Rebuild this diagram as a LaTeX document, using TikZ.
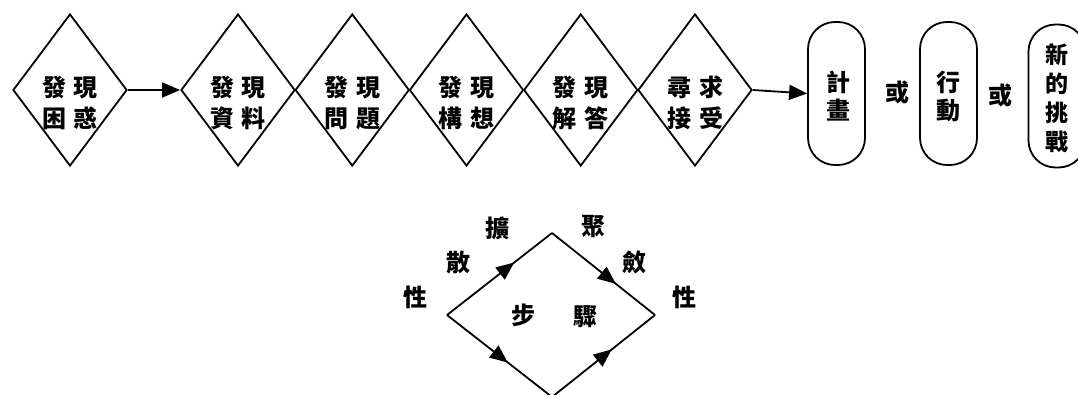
\documentclass[tikz,border=0pt]{standalone}
\usepackage{fontspec}
\newfontfamily\cjk{Noto Sans CJK TC}
\usetikzlibrary{shapes.geometric,arrows.meta,decorations.markings}
\begin{document}
\begin{tikzpicture}[x=1pt,y=-1pt,
  line width=1.8pt,
  tip/.style={-{Triangle[length=18pt,width=15pt]}},
  stepdia/.style={draw,diamond,inner sep=0pt,minimum width=114pt,minimum height=152pt},
  txt/.style={font=\cjk\bfseries\fontsize{24}{31}\selectfont,align=center,inner sep=0pt},
  capsule/.style={draw,rectangle,rounded corners=27pt,minimum width=57pt,minimum height=143pt,inner sep=0pt},
  midtip/.style={postaction={decorate},decoration={markings,mark=at position #1 with {\arrow{Triangle[length=18pt,width=15pt]}}}}
]
\useasboundingbox (0,0) rectangle (1078,394);
% top row diamonds
\node[stepdia] (d1) at (70,90) {};
\node[stepdia] (d2) at (238,90) {};
\node[stepdia] (d3) at (352.25,90) {};
\node[stepdia] (d4) at (466.5,90) {};
\node[stepdia] (d5) at (580.75,90) {};
\node[stepdia] (d6) at (695,90) {};
\node[txt] (t1) at (70,103) {發\hspace{8pt}現\\困\hspace{8pt}惑};
\node[txt] (t2) at (238,103) {發\hspace{8pt}現\\資\hspace{8pt}料};
\node[txt] (t3) at (352.25,103) {發\hspace{8pt}現\\問\hspace{8pt}題};
\node[txt] (t4) at (466.5,103) {發\hspace{8pt}現\\構\hspace{8pt}想};
\node[txt] (t5) at (580.75,103) {發\hspace{8pt}現\\解\hspace{8pt}答};
\node[txt] (t6) at (695,103) {尋\hspace{8pt}求\\接\hspace{8pt}受};
% capsules
\node[capsule] (b1) at (836.5,93.5) {};
\node[capsule] (b2) at (948.5,93.5) {};
\node[capsule] (b3) at (1057,96) {};
\node[txt,font=\cjk\bfseries\fontsize{24}{28}\selectfont] (bt1) at (838,96) {計\\畫};
\node[txt,font=\cjk\bfseries\fontsize{24}{28}\selectfont] (bt2) at (948.5,96) {行\\動};
\node[txt,font=\cjk\bfseries\fontsize{23}{29}\selectfont] (bt3) at (1057,98.5) {新\\的\\挑\\戰};
\node[txt] (o1) at (897,92) {或};
\node[txt] (o2) at (1000,95) {或};
% arrows
\draw[tip] (d1.east) -- (d2.west);
\draw[tip] (d6.east) -- (b1.west);
% bottom diamond
\coordinate (L) at (447,315);
\coordinate (T) at (552,233);
\coordinate (R) at (655,315);
\coordinate (B) at (552,397);
\draw[midtip=0.64] (L) -- (T);
\draw[midtip=0.62] (T) -- (R);
\draw[midtip=0.58] (L) -- (B);
\draw[midtip=0.58] (B) -- (R);
\node[txt] (k1) at (497,228) {擴};
\node[txt] (k2) at (458,262) {散};
\node[txt] (k3) at (415,297) {性};
\node[txt] (j1) at (593,227) {聚};
\node[txt] (j2) at (634,262) {斂};
\node[txt] (j3) at (684,297) {性};
\node[txt] (s1) at (523,315) {步};
\node[txt] (s2) at (585,317) {驟};
\end{tikzpicture}
\end{document}
